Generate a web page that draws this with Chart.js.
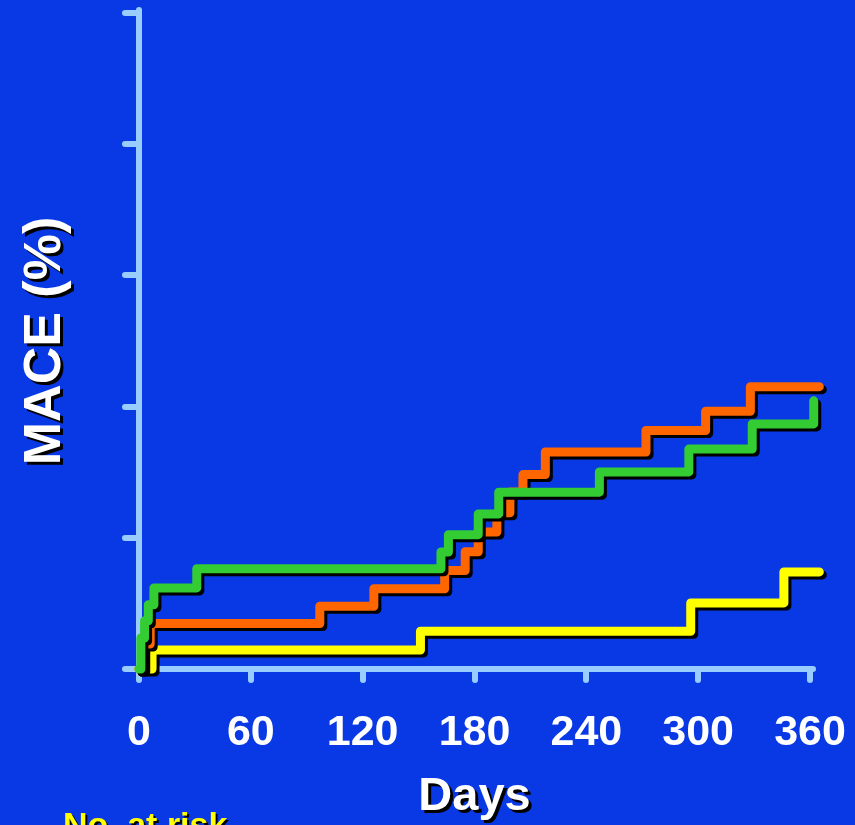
<!DOCTYPE html>
<html>
<head>
<meta charset="utf-8">
<title>MACE Kaplan-Meier</title>
<style>
  html, body { margin: 0; padding: 0; background: #0839e5; }
  canvas { display: block; }
</style>
<script src="https://cdn.jsdelivr.net/npm/chart.js@4.4.1/dist/chart.umd.min.js"></script>
</head>
<body>
<canvas id="km" width="855" height="825"></canvas>
<script>
// Axis ticks
const dayTicks = [0, 60, 120, 180, 240, 300, 360];
const maceTicks = [0, 5, 10, 15, 20, 25];

// Cumulative MACE (%) at each event day, per group
const greenDays = [0, 1, 3, 5, 8, 31, 162, 166, 182, 193, 247, 295, 329, 362, 365];
const greenMace = [0, 1.18, 1.84, 2.45, 3.09, 3.82, 4.46, 5.12, 5.91, 6.74, 7.51, 8.38, 9.34, 10.22, 10.22];

const orangeDays = [0, 2, 6, 97, 126, 164, 175, 182, 192, 199, 206, 218, 272, 304, 328, 365];
const orangeMace = [0, 0.95, 1.73, 2.39, 3.06, 3.75, 4.47, 5.22, 5.95, 6.75, 7.41, 8.27, 9.09, 9.82, 10.76, 10.76];

const yellowDays = [0, 7, 151, 296, 346, 365];
const yellowMace = [0, 0.72, 1.44, 2.52, 3.70, 3.70];

const BG = '#0839e5';
const AXIS = '#99ccff';
const FONT = "'Liberation Sans', Arial, Helvetica, sans-serif";

const toPoints = (days, vals) => days.map((d, i) => ({ x: d, y: vals[i] }));

// Horizontal run to each event day, then the vertical jump
function stepSeries(days, vals, color) {
  return {
    data: toPoints(days, vals),
    borderColor: color,
    backgroundColor: color,
    borderWidth: 9,
    borderCapStyle: 'round',
    borderJoinStyle: 'round',
    stepped: 'before',
    pointRadius: 0,
    pointHoverRadius: 0,
    fill: false,
    clip: false
  };
}

// Solid backdrop plus rounded ends for the axis strokes
const backdrop = {
  id: 'backdrop',
  beforeDraw(chart) {
    const c = chart.ctx;
    c.save();
    c.fillStyle = BG;
    c.fillRect(0, 0, chart.width, chart.height);
    c.restore();
    c.lineCap = 'round';
  }
};

// Hard black drop shadow under each curve
const lineShadow = {
  id: 'lineShadow',
  beforeDatasetDraw(chart) {
    const c = chart.ctx;
    c.save();
    c.shadowColor = '#000';
    c.shadowOffsetX = 3;
    c.shadowOffsetY = 3;
    c.shadowBlur = 0;
  },
  afterDatasetDraw(chart) {
    chart.ctx.restore();
  }
};

// Drop shadow on the axis titles only
const titleShadow = {
  id: 'titleShadow',
  beforeDraw(chart) {
    Object.values(chart.scales).forEach(s => {
      if (s._titleShadow) return;
      const orig = s.drawTitle;
      s.drawTitle = function () {
        const c = this.ctx;
        c.save();
        c.shadowColor = '#000';
        c.shadowOffsetX = 3;
        c.shadowOffsetY = 3;
        c.shadowBlur = 0;
        orig.call(this);
        c.restore();
      };
      s._titleShadow = true;
    });
  }
};

// "No. at risk" caption under the plot
const riskCaption = {
  id: 'riskCaption',
  afterDraw(chart) {
    const c = chart.ctx;
    c.save();
    c.font = 'bold 34px ' + FONT;
    c.textAlign = 'left';
    c.textBaseline = 'alphabetic';
    c.shadowColor = '#000';
    c.shadowOffsetX = 2;
    c.shadowOffsetY = 2;
    c.fillStyle = '#ffff00';
    c.fillText('No. at risk', 63, 836);
    c.restore();
  }
};

new Chart(document.getElementById('km'), {
  type: 'line',
  data: {
    datasets: [
      stepSeries(greenDays, greenMace, '#33cc33'),
      stepSeries(orangeDays, orangeMace, '#ff6600'),
      stepSeries(yellowDays, yellowMace, '#ffff00')
    ]
  },
  options: {
    responsive: false,
    animation: false,
    devicePixelRatio: 1,
    layout: { padding: { left: 0, top: 13, right: 45, bottom: 0 } },
    plugins: {
      legend: { display: false },
      tooltip: { enabled: false }
    },
    scales: {
      x: {
        type: 'linear',
        min: 0,
        max: 360,
        afterBuildTicks: s => { s.ticks = dayTicks.map(v => ({ value: v })); },
        afterFit: s => { s.height = 156; s.paddingLeft = 0; s.paddingRight = 0; },
        grid: {
          drawOnChartArea: false,
          drawTicks: true,
          tickLength: 11,
          tickWidth: 6,
          tickColor: AXIS,
          color: AXIS,
          lineWidth: 6
        },
        border: { display: true, color: AXIS, width: 6 },
        ticks: {
          color: '#ffffff',
          padding: 27,
          maxRotation: 0,
          autoSkip: false,
          font: { family: FONT, size: 43, weight: 'bold' }
        },
        title: {
          display: true,
          text: 'Days',
          color: '#ffffff',
          padding: { top: 0, bottom: 0 },
          font: { family: FONT, size: 47, weight: 'bold' }
        }
      },
      y: {
        type: 'linear',
        min: 0,
        max: 25,
        afterBuildTicks: s => { s.ticks = maceTicks.map(v => ({ value: v })); },
        afterFit: s => { s.width = 139; s.paddingTop = 0; s.paddingBottom = 0; },
        grid: {
          drawOnChartArea: false,
          drawTicks: true,
          tickLength: 14,
          tickWidth: 6,
          tickColor: AXIS,
          color: AXIS,
          lineWidth: 6
        },
        border: { display: true, color: AXIS, width: 6 },
        ticks: { display: false },
        title: {
          display: true,
          text: 'MACE (%)',
          color: '#ffffff',
          padding: { top: 14, bottom: 0 },
          font: { family: FONT, size: 52, weight: 'bold' }
        }
      }
    }
  },
  plugins: [backdrop, titleShadow, lineShadow, riskCaption]
});
</script>
</body>
</html>
